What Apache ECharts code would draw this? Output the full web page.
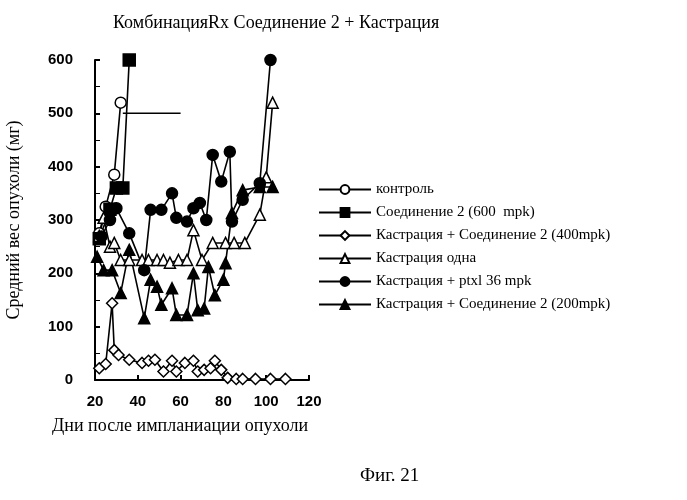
<!DOCTYPE html><html><head><meta charset="utf-8"><script src="https://cdn.jsdelivr.net/npm/echarts@6/dist/echarts.min.js"></script></head><body style="margin:0;background:#fff"><div id="c" style="width:687px;height:500px"></div><script>
const names=['контроль','Соединение 2 (600  mpk)','Кастрация + Соединение 2 (400mpk)','Кастрация одна','Кастрация + ptxl 36 mpk','Кастрация + Соединение 2 (200mpk)'];
const control=[[22,275],[25,325],[29,385],[32,520]];
const comp600=[[22,265],[27,320],[30,360],[33,360],[36,600]];
const comp400=[[22,22],[25,30],[28,144],[29,56],[31,47],[36,38],[42,32],[45,36],[48,38],[52,16],[56,36],[58,16],[62,32],[66,36],[68,16],[71,19],[74,22],[76,36],[79,19],[82,4],[86,2],[89,2],[95,2],[102,2],[109,2]];
const castOnly=[[22,270],[24,304],[27,250],[29,257],[32,225],[36,225],[42,225],[45,225],[49,225],[52,225],[55,220],[59,225],[63,225],[66,281],[70,225],[75,257],[81,257],[85,257],[90,257],[97,310],[100,380],[103,520]];
const ptxl=[[23,269],[27,300],[30,322],[36,275],[43,206],[46,319],[51,319],[56,350],[58,304],[63,297],[66,322],[69,332],[72,300],[75,422],[79,372],[83,428],[84,297],[89,338],[97,369],[102,600]];
const c200=[[21,231],[24,206],[28,206],[32,163],[36,244],[43,116],[46,188],[49,175],[51,141],[56,172],[58,122],[63,122],[66,200],[68,131],[71,134],[73,212],[76,159],[80,188],[81,219],[84,313],[89,356],[97,362],[103,362]];
const xTicks=[20,40,60,80,100,120], yTicks=[0,100,200,300,400,500,600];
const sym=['circle','rect','diamond','triangle','circle','triangle'];
const filled=[false,true,false,false,true,true];
const data=[control,comp600,comp400,castOnly,ptxl,c200];
const ch=echarts.init(document.getElementById('c'));
ch.setOption({animation:false,backgroundColor:'#fff',
title:[{text:'КомбинацияRx Соединение 2 + Кастрация',left:108,top:9,textStyle:{fontFamily:'Liberation Serif',fontWeight:'normal',fontSize:18,color:'#000'}},
{text:'Фиг. 21',left:355,top:462,textStyle:{fontFamily:'Liberation Serif',fontWeight:'normal',fontSize:19,color:'#000'}}],
legend:{orient:'vertical',left:313,top:177,itemGap:8,itemWidth:52,itemHeight:11,textStyle:{fontFamily:'Liberation Serif',fontSize:15,color:'#000'},data:names},
grid:{left:95,right:378,top:60,bottom:120},
xAxis:{type:'value',min:20,max:120,interval:20,name:'Дни после импланиации опухоли',nameLocation:'middle',nameGap:37,nameTextStyle:{fontFamily:'Liberation Serif',fontSize:18,color:'#000',align:'left',padding:[0,0,0,-150]},axisLine:{lineStyle:{color:'#000',width:2}},axisTick:{inside:true,lineStyle:{color:'#000',width:2}},splitLine:{show:false},axisLabel:{fontFamily:'Liberation Sans',fontWeight:'bold',fontSize:15,color:'#000',margin:14}},
yAxis:{type:'value',min:0,max:600,interval:100,name:'Средний вес опухоли (мг)',nameLocation:'middle',nameGap:72,nameTextStyle:{fontFamily:'Liberation Serif',fontSize:18,color:'#000'},axisLine:{show:true,lineStyle:{color:'#000',width:2}},axisTick:{inside:true,lineStyle:{color:'#000',width:2}},minorTick:{show:true,splitNumber:2,length:5,lineStyle:{color:'#000'}},splitLine:{show:false},axisLabel:{fontFamily:'Liberation Sans',fontWeight:'bold',fontSize:15,color:'#000',margin:22}},
series:data.map((d,i)=>({name:names[i],type:'line',data:d,clip:false,symbol:sym[i],symbolSize:sym[i]==='rect'?12:11,lineStyle:{color:'#000',width:1.6},itemStyle:{color:filled[i]?'#000':'#fff',borderColor:'#000',borderWidth:1.5}})).concat([{type:'line',data:[[33,500],[60,500]],symbol:'none',lineStyle:{color:'#000',width:1.5},silent:true}])
});
</script></body></html>
